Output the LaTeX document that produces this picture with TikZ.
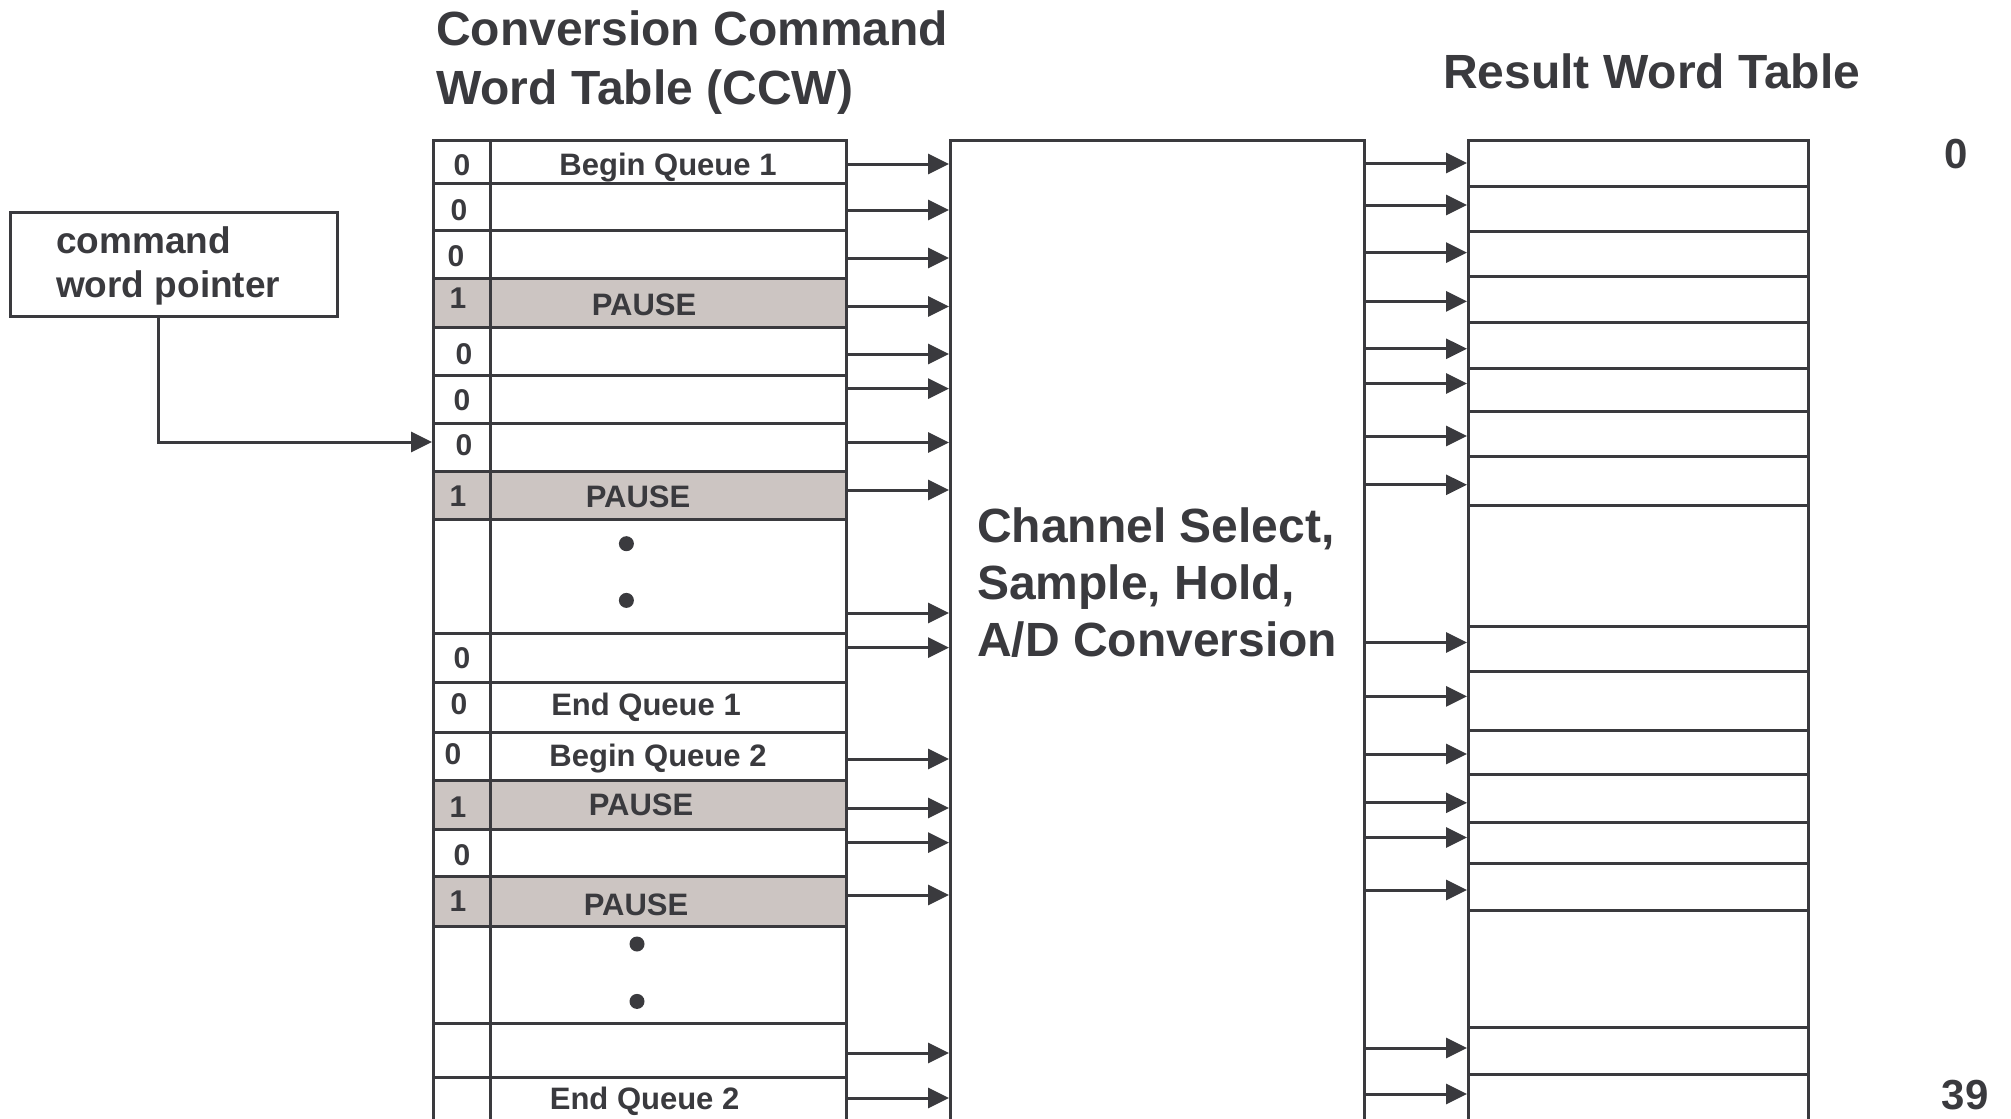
\documentclass[tikz,border=0pt]{standalone}
\usepackage{fontspec}
\setmainfont{Liberation Sans}
\usetikzlibrary{arrows.meta}
\definecolor{ink}{RGB}{58,58,62}
\definecolor{pausefill}{RGB}{204,197,194}
\newcommand\rwfont{\fontsize{31}{36}\selectfont\bfseries}
\newcommand\bitfont{\fontsize{30}{36}\selectfont\bfseries}
\newcommand\hdfont{\fontsize{48}{59}\selectfont\bfseries}
\newcommand\midfont{\fontsize{48}{57}\selectfont\bfseries}
\newcommand\ptrfont{\fontsize{37}{44}\selectfont\bfseries}
\newcommand\idxfont{\fontsize{42}{48}\selectfont\bfseries}
\begin{document}
\begin{tikzpicture}[x=1pt,y=-1pt,
  line/.style={draw=ink, line width=3pt},
  arr/.style={draw=ink, line width=3pt, -{Triangle[length=21pt,width=20pt]}},
  cell/.style={rectangle, draw=ink, line width=3pt, inner sep=0pt, anchor=north west, minimum width=413pt},
  rcell/.style={rectangle, draw=ink, line width=3pt, inner sep=0pt, anchor=north west, minimum width=340pt},
  lbl/.style={inner sep=0pt, text=ink, font=\rwfont, text height=22pt, text depth=0pt},
  bit/.style={inner sep=0pt, text=ink, font=\bitfont, text height=21.5pt, text depth=0pt},
  ttl/.style={inner sep=0pt, text=ink, anchor=north west, align=left}]
\useasboundingbox (0,0) rectangle (2011,1119);
\clip (0,0) rectangle (2011,1119);
\fill[white] (0,0) rectangle (2011,1119);

% headings
\node[ttl, font=\hdfont] (ccwtitle) at (436,11) {Conversion Command\\Word Table (CCW)};
\node[ttl, font=\hdfont] (restitle) at (1443,54) {Result Word Table};

% CCW table rows
\foreach \n/\a/\b/\f in {1/139/182/white, 2/182/229/white, 3/229/277/white, 4/277/326/pausefill,
  5/326/374/white, 6/374/422/white, 7/422/470/white, 8/470/518/pausefill, 9/518/632/white,
  10/632/681/white, 11/681/731/white, 12/731/779/white, 13/779/828/pausefill, 14/828/875/white,
  15/875/925/pausefill, 16/925/1022/white, 17/1022/1076/white, 18/1076/1140/white}
  \node[cell, fill=\f, minimum height={(\b-\a)*1pt}] (c\n) at (432,\a) {};
\node[cell, minimum height=1001pt] (ccw) at (432,139) {};
\draw[line] (c1.north west -| 490,0) -- (c18.south west -| 490,0);

% bits
\foreach \x/\y/\t in {462/164.5/0, 459/210/0, 456/256/0, 458/298/1, 464/354/0, 462/400/0, 464/445/0,
  458/495.5/1, 462/657.4/0, 459/703.7/0, 453/754/0, 458/807/1, 462/855/0, 458/901/1}
  \node[bit] at (\x,\y) {\t};

% row labels
\node[lbl] (bq1) at (668,164.5) {Begin Queue 1};
\node[lbl] (p1) at (644,304.5) {PAUSE};
\node[lbl] (p2) at (638,496.5) {PAUSE};
\node[lbl] (eq1) at (646,704) {End Queue 1};
\node[lbl] (bq2) at (658,755) {Begin Queue 2};
\node[lbl] (p3) at (641,804) {PAUSE};
\node[lbl] (p4) at (636,904) {PAUSE};
\node[lbl] (eq2) at (644.6,1098) {End Queue 2};

% dots
\foreach \x/\y in {626.4/543.7, 626.4/600.4, 637/944, 637/1001.4}
  \fill[ink] (\x,\y) circle (7.5pt);

% middle block
\node[cell, minimum width=414pt, minimum height=1001pt] (mid) at (949,139) {};
\node[ttl, font=\midfont] (midtext) at (977,508) {Channel Select,\\Sample, Hold,\\A/D Conversion};

% result table
\foreach \n/\a/\b in {1/139/184.7, 2/184.7/229.6, 3/229.6/274.5, 4/274.5/320.6, 5/320.6/366.8,
  6/366.8/410.4, 7/410.4/455.3, 8/455.3/504, 9/504/624.6, 10/624.6/669.5, 11/669.5/728.5,
  12/728.5/773.3, 13/773.3/820.8, 14/820.8/861.8, 15/861.8/909.3, 16/909.3/1026,
  17/1026/1073.4, 18/1073.4/1140}
  \node[rcell, minimum height={(\b-\a)*1pt}] (r\n) at (1467,\a) {};
\node[rcell, minimum height=1001pt] (res) at (1467,139) {};

% index labels
\node[inner sep=0pt, text=ink, font=\idxfont, text height=30pt, text depth=0pt] (i0) at (1956,153.5) {0};
\node[inner sep=0pt, text=ink, font=\idxfont, text height=30pt, text depth=0pt] (i39) at (1965,1094) {39};

% arrows CCW -> middle
\foreach \y in {164,210,258,306.5,354,388.6,442.5,490,613,647.6,759,808,842.6,895,1053,1098} {
  \coordinate (t) at (0,\y);
  \draw[arr] (ccw.east |- t) -- (mid.west |- t);
}
% arrows middle -> result
\foreach \y in {163,205,252.6,301.4,348.8,383.5,436,484.8,642.5,696.4,754,802.8,837.5,890,1048,1094} {
  \coordinate (t) at (0,\y);
  \draw[arr] (mid.east |- t) -- (res.west |- t);
}

% command word pointer
\node[rectangle, draw=ink, line width=3pt, inner sep=0pt, anchor=north west,
  minimum width=327pt, minimum height=104pt] (cwp) at (9,211) {};
\node[ttl, font=\ptrfont] (cwptext) at (56,226) {command\\word pointer};
\coordinate (pt) at (0,442);
\draw[arr] ([xshift=-15.5pt]cwp.south) |- (ccw.west |- pt);
\end{tikzpicture}
\end{document}
